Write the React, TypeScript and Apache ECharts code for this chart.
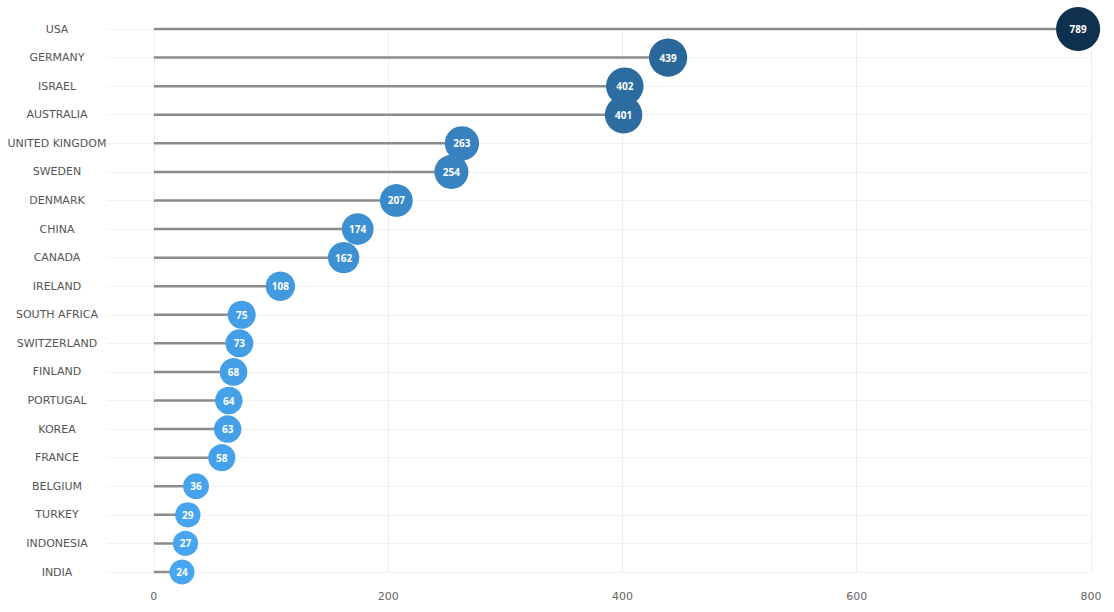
import React, { useEffect, useRef } from "react";
import * as echarts from "echarts";

const countries = [
  "USA", "GERMANY", "ISRAEL", "AUSTRALIA", "UNITED KINGDOM", "SWEDEN", "DENMARK",
  "CHINA", "CANADA", "IRELAND", "SOUTH AFRICA", "SWITZERLAND", "FINLAND", "PORTUGAL",
  "KOREA", "FRANCE", "BELGIUM", "TURKEY", "INDONESIA", "INDIA",
];
const values = [789, 439, 402, 401, 263, 254, 207, 174, 162, 108, 75, 73, 68, 64, 63, 58, 36, 29, 27, 24];
const xTicks = [0, 200, 400, 600, 800];

export default function App() {
  const ref = useRef<HTMLDivElement>(null);
  useEffect(() => {
    if (!ref.current) return;
    const chart = echarts.init(ref.current, null, { renderer: "svg" });
    chart.setOption({
      animation: false,
      backgroundColor: "#ffffff",
      grid: { left: 107, right: 23, top: 29, bottom: 40, containLabel: false },
      xAxis: {
        type: "value",
        min: -40,
        max: 800,
        axisLine: { show: false },
        axisTick: { show: false, customValues: xTicks },
        axisLabel: {
          customValues: xTicks,
          color: "#666",
          fontSize: 11,
          fontFamily: "DejaVu Sans",
          margin: 19,
        },
        splitLine: { show: true, lineStyle: { color: "#ececec", width: 1 } },
      },
      yAxis: {
        type: "category",
        data: countries,
        inverse: true,
        boundaryGap: false,
        axisLine: { show: false },
        axisTick: { show: false },
        axisLabel: {
          color: "#555",
          fontSize: 11,
          fontFamily: "DejaVu Sans",
          align: "center",
          margin: 50,
        },
        splitLine: { show: true, lineStyle: { color: "#f2f2f2", width: 1 } },
      },
      visualMap: {
        show: false,
        type: "continuous",
        seriesIndex: 1,
        dimension: 0,
        min: 24,
        max: 789,
        inRange: { color: ["#47a6f0", "#10304f"] },
      },
      series: [
        {
          type: "bar",
          data: values,
          barWidth: 2.5,
          itemStyle: { color: "#8c8c8c" },
          silent: true,
          z: 1,
        },
        {
          type: "scatter",
          data: values.map((v, i) => [v, countries[i]]),
          symbol: "circle",
          symbolSize: (d: any) => 21 + 0.82 * Math.sqrt(d[0]),
          itemStyle: { opacity: 1 },
          label: {
            show: true,
            position: "inside",
            formatter: (p: any) => String(p.value[0]),
            color: "#ffffff",
            fontWeight: "bold",
            fontSize: 10,
            fontFamily: "Open Sans",
          },
          z: 2,
        },
      ],
    });
    return () => chart.dispose();
  }, []);
  return (
    <div
      ref={ref}
      style={{ position: "fixed", left: 0, top: 0, width: 1114, height: 612 }}
    />
  );
}
